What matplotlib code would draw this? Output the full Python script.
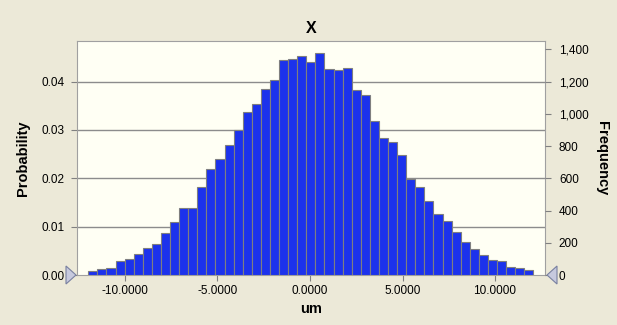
import numpy as np
import matplotlib
matplotlib.use("Agg")
import matplotlib.pyplot as plt
from matplotlib.patches import Polygon
from matplotlib.ticker import FuncFormatter

# histogram data
bin_start = -11.98
bin_end = 12.07
probability = [0.0009, 0.0013, 0.0015, 0.0028, 0.0034, 0.0043, 0.0056, 0.0065,
               0.0086, 0.0110, 0.0138, 0.0138, 0.0183, 0.0220, 0.0239, 0.0268,
               0.0300, 0.0337, 0.0353, 0.0384, 0.0403, 0.0444, 0.0446, 0.0452,
               0.0440, 0.0459, 0.0427, 0.0425, 0.0429, 0.0383, 0.0372, 0.0319,
               0.0283, 0.0275, 0.0248, 0.0199, 0.0181, 0.0154, 0.0127, 0.0112,
               0.0088, 0.0068, 0.0053, 0.0041, 0.0032, 0.0028, 0.0017, 0.0015,
               0.0011]
n_trials = 30000
x_ticks = [-10, -5, 0, 5, 10]
prob_ticks = [0.0, 0.01, 0.02, 0.03, 0.04]
freq_ticks = [0, 200, 400, 600, 800, 1000, 1200, 1400]

bg = "#ECE9D8"
plt.rcParams["font.family"] = ["Liberation Sans", "DejaVu Sans"]

W, H = 617, 325
fig = plt.figure(figsize=(W / 100, H / 100), dpi=100, facecolor=bg)
ax = fig.add_axes([77 / W, 1 - 275 / H, (545 - 77) / W, (275 - 41) / H])
ax.set_facecolor("#FFFFF4")

edges = np.linspace(bin_start, bin_end, len(probability) + 1)
ax.bar(edges[:-1], probability, width=np.diff(edges), align="edge",
       color="#1C32EC", edgecolor="#7F7F7F", linewidth=0.8, zorder=3)

ax.set_xlim(-12.59, 12.70)
ax.set_ylim(0, 0.0484)
ax.set_xticks(x_ticks)
ax.set_xticklabels([f"{t:.4f}" for t in x_ticks])
ax.set_yticks(prob_ticks)
ax.set_yticklabels([f"{t:.2f}" for t in prob_ticks])
for t in prob_ticks[1:]:
    ax.axhline(t, color="#8C8C8C", linewidth=1.0, zorder=1)

for s in ax.spines.values():
    s.set_color("#A0A0A0")
    s.set_linewidth(0.8)
ax.tick_params(axis="both", labelsize=8.5, colors="#808080", labelcolor="black",
               length=4, width=0.8)
ax.tick_params(axis="y", pad=5)

ax2 = ax.twinx()
ax2.set_ylim(0, 0.0484 * n_trials)
ax2.set_yticks(freq_ticks)
ax2.yaxis.set_major_formatter(FuncFormatter(lambda v, p: f"{int(v):,}"))
ax2.tick_params(axis="y", labelsize=8.5, colors="#808080", labelcolor="black",
                length=4, width=0.8, pad=6)
for s in ax2.spines.values():
    s.set_visible(False)

ax.set_title("X", fontsize=11.5, fontweight="bold", pad=6)
ax.set_xlabel("um", fontsize=10.5, fontweight="bold", labelpad=3)
ax.set_ylabel("Probability", fontsize=10.5, fontweight="bold", labelpad=8)
ax2.set_ylabel("Frequency", fontsize=10.5, fontweight="bold", rotation=-90,
               labelpad=15)

# crystal-ball style range markers (pixel positions)
def tri(pts):
    xy = [(px / W, 1 - py / H) for px, py in pts]
    fig.patches.append(Polygon(xy, closed=True, transform=fig.transFigure,
                               facecolor="#C6C9DE", edgecolor="#7880A0",
                               linewidth=0.8, zorder=5))

tri([(66, 266), (76, 275), (66, 284)])
tri([(557, 266), (547, 275), (557, 284)])

fig.savefig("out.png", dpi=100, facecolor=bg)
